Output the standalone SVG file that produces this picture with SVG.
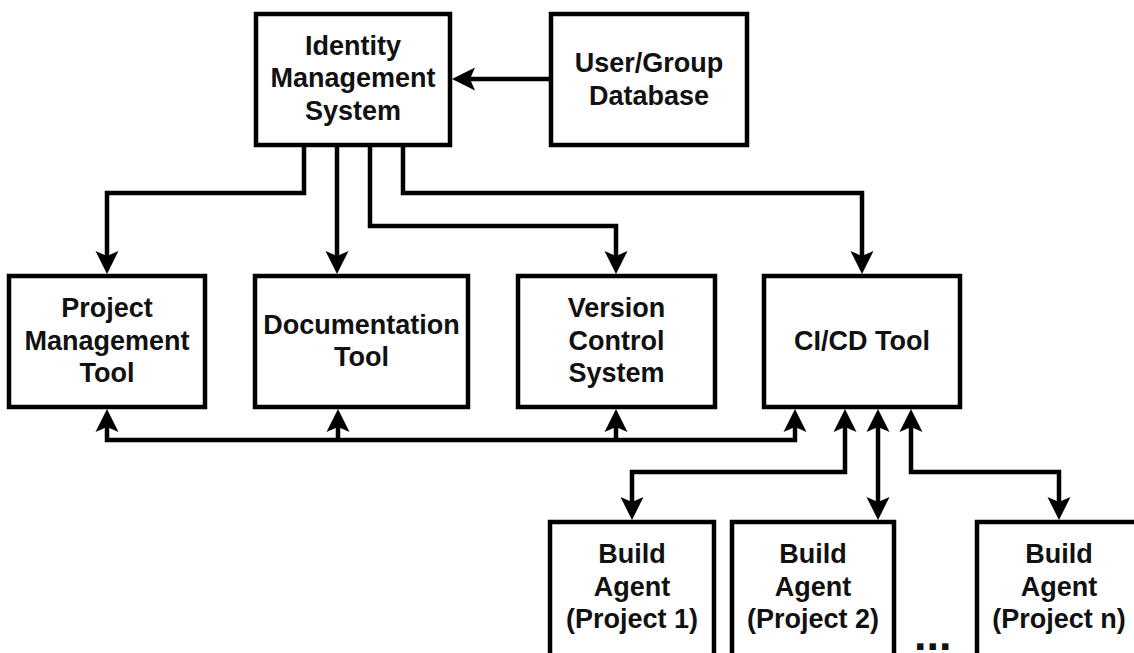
<svg xmlns="http://www.w3.org/2000/svg" width="1134" height="653" viewBox="0 0 1134 653">
  <style>
    .box { fill: #ffffff; stroke: #000000; stroke-width: 4.5; }
    .lbl { font-family: "Liberation Sans", Arial, Helvetica, sans-serif; font-weight: bold; font-size: 27px; fill: #111111; text-anchor: middle; }
    .edge { fill: none; stroke: #000000; stroke-width: 4.5; stroke-linejoin: miter; }
    .end { marker-end: url(#arrow); }
    .both { marker-start: url(#arrow); marker-end: url(#arrow); }
  </style>
  <defs>
    <marker id="arrow" viewBox="-13 -12 25 24" refX="0" refY="0" markerWidth="25" markerHeight="24" markerUnits="userSpaceOnUse" orient="auto-start-reverse">
      <path d="M11,0 L-12,-11.5 L-7,0 L-12,11.5 Z" fill="#000000"/>
    </marker>
  </defs>
  <rect width="1134" height="653" fill="#ffffff"/>

  <g id="connectors">
    <path class="edge end" d="M551,79 H463"/>
    <path class="edge end" d="M304,147 V193 H107 V263"/>
    <path class="edge end" d="M337,147 V263"/>
    <path class="edge end" d="M370,147 V226 H616 V263"/>
    <path class="edge end" d="M403,147 V193 H862 V263"/>
    <path class="edge both" d="M107,420 V440 H795 V420"/>
    <path class="edge end" d="M338,440 V420"/>
    <path class="edge end" d="M616,440 V420"/>
    <path class="edge both" d="M845,420 V472 H632 V509"/>
    <path class="edge both" d="M878,420 V509"/>
    <path class="edge both" d="M911,420 V472 H1059 V509"/>
  </g>

  <g id="identity">
    <rect class="box" x="256" y="14" width="194" height="131"/>
    <text class="lbl" x="353" y="54.5">Identity</text>
    <text class="lbl" x="353" y="87">Management</text>
    <text class="lbl" x="353" y="119.5">System</text>
  </g>
  <g id="usergroup">
    <rect class="box" x="551" y="14" width="196" height="131"/>
    <text class="lbl" x="649" y="72">User/Group</text>
    <text class="lbl" x="649" y="104.5">Database</text>
  </g>
  <g id="project-mgmt">
    <rect class="box" x="9" y="276" width="196" height="131"/>
    <text class="lbl" x="107" y="317">Project</text>
    <text class="lbl" x="107" y="349.5">Management</text>
    <text class="lbl" x="107" y="382">Tool</text>
  </g>
  <g id="documentation">
    <rect class="box" x="255" y="276" width="213" height="131"/>
    <text class="lbl" x="361.5" y="333.5">Documentation</text>
    <text class="lbl" x="361.5" y="366">Tool</text>
  </g>
  <g id="version-control">
    <rect class="box" x="518" y="276" width="197" height="131"/>
    <text class="lbl" x="616.5" y="317">Version</text>
    <text class="lbl" x="616.5" y="349.5">Control</text>
    <text class="lbl" x="616.5" y="382">System</text>
  </g>
  <g id="cicd">
    <rect class="box" x="764" y="276" width="196" height="131"/>
    <text class="lbl" x="862" y="350">CI/CD Tool</text>
  </g>
  <g id="build1">
    <rect class="box" x="550" y="522" width="164" height="135"/>
    <text class="lbl" x="632" y="563">Build</text>
    <text class="lbl" x="632" y="595.5">Agent</text>
    <text class="lbl" x="632" y="628">(Project 1)</text>
  </g>
  <g id="build2">
    <rect class="box" x="732" y="522" width="162" height="135"/>
    <text class="lbl" x="813" y="563">Build</text>
    <text class="lbl" x="813" y="595.5">Agent</text>
    <text class="lbl" x="813" y="628">(Project 2)</text>
  </g>
  <g id="buildn">
    <rect class="box" x="977" y="522" width="164" height="135"/>
    <text class="lbl" x="1059" y="563">Build</text>
    <text class="lbl" x="1059" y="595.5">Agent</text>
    <text class="lbl" x="1059" y="628">(Project n)</text>
  </g>
  <g id="ellipsis">
    <text x="914" y="650" style="font-family: 'Liberation Sans', Arial, sans-serif; font-weight: bold; font-size: 45px; fill: #111111;">...</text>
  </g>
</svg>
